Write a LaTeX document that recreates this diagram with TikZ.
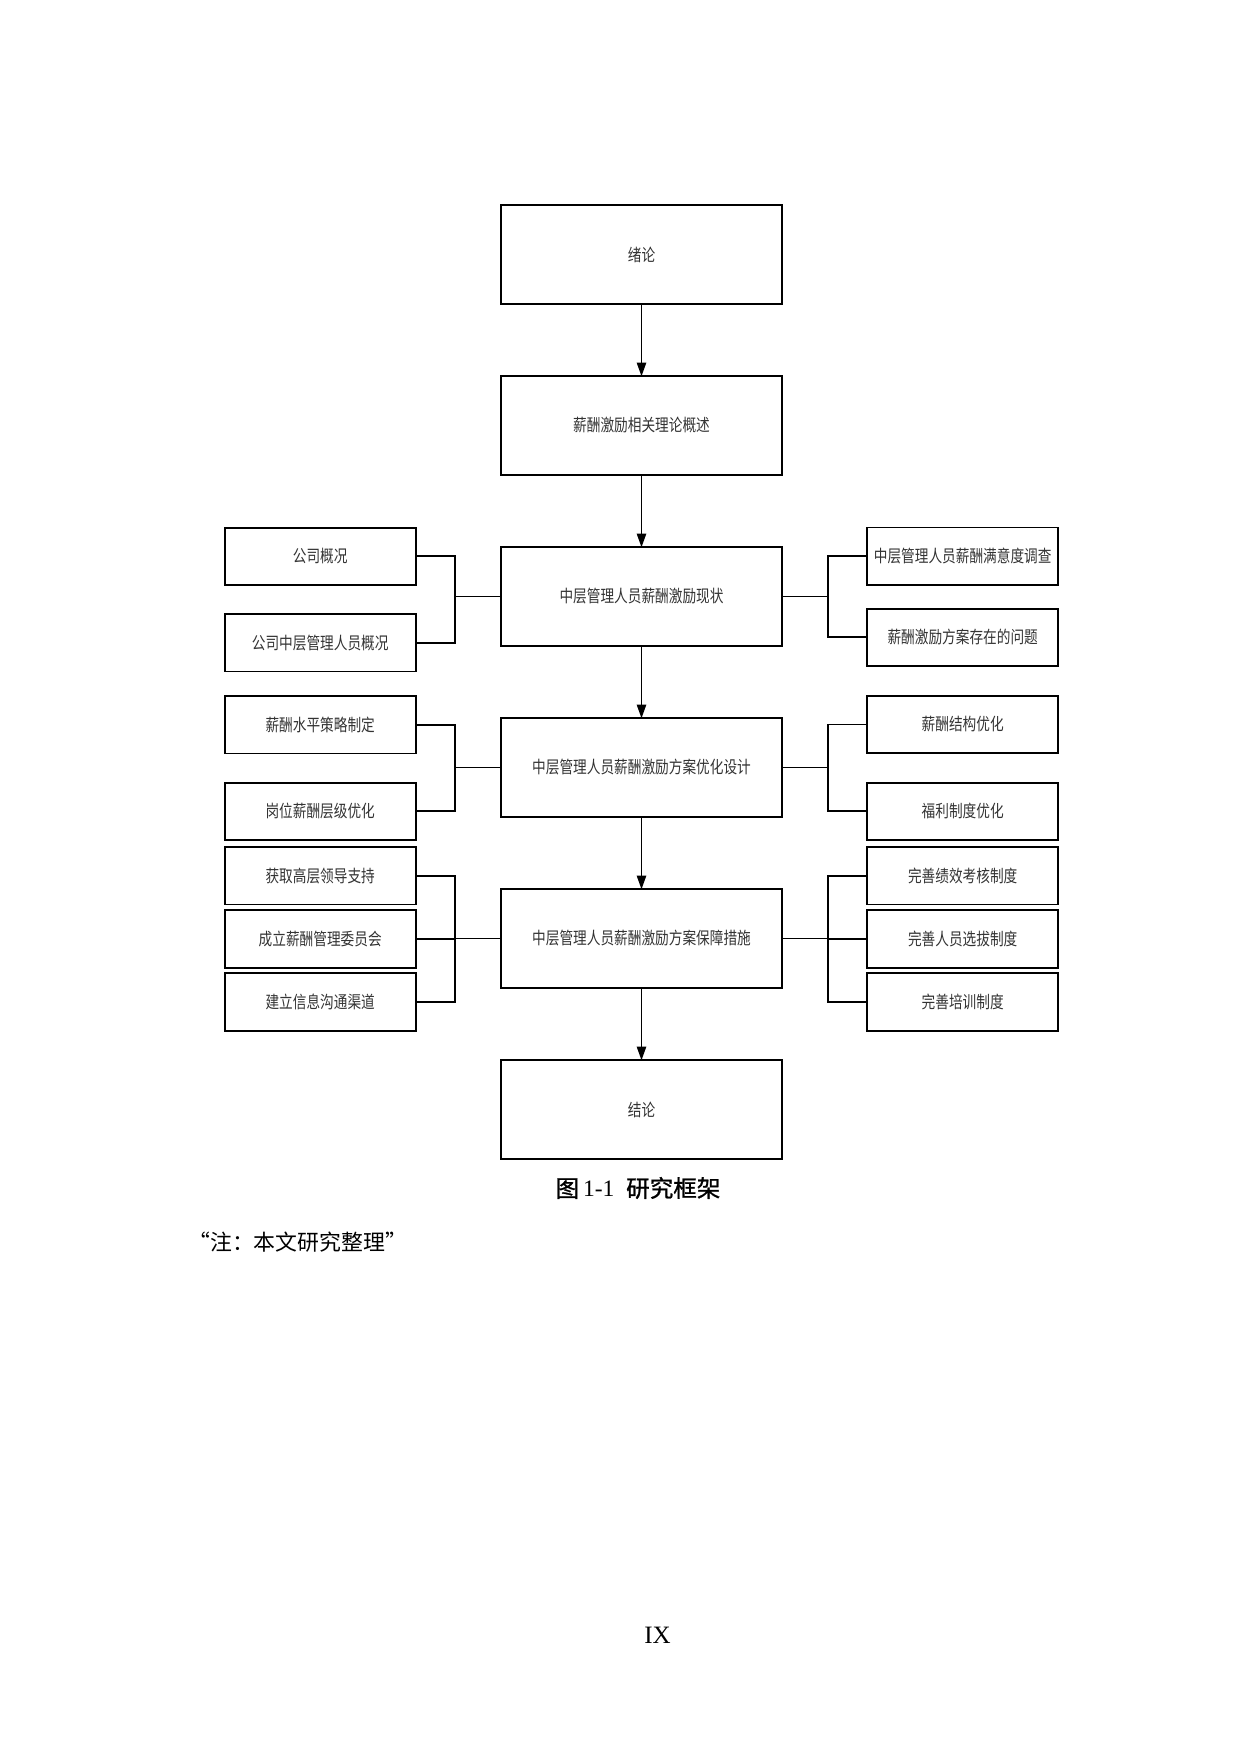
\documentclass[tikz,border=0pt]{standalone}
\usepackage{fontspec}
\setmainfont{Liberation Serif}
\newfontfamily\cjkbox[FakeStretch=0.8]{Noto Sans CJK SC}
\newfontfamily\cjkhead[FakeBold=1]{Noto Sans CJK SC}
\newfontfamily\cjk{Noto Sans CJK SC}
\usepackage{tikz}
\usetikzlibrary{arrows.meta}
\usetikzlibrary{calc}
\usetikzlibrary{positioning}

\begin{document}
\begin{tikzpicture} [
            x=0.48pt, y=-0.48pt,
            % ----- Node definitions ----- %
            mainnode/.style = {
                draw,
                rectangle,
                line width=0.9pt,
                inner sep=0pt,
                outer sep=0pt,
                minimum width=134.9pt,
                minimum height=47.3pt,
                align=center,
                text=black!80,
                font=\cjkbox\fontsize{8.2pt}{10pt}\selectfont
            },
            sidenode/.style = {
                mainnode,
                minimum width=91.7pt,
                minimum height=27.6pt
            },
            flowline/.style = {
                line width=0.6pt,
                -{Triangle[length=6.5pt,width=4.5pt]}
            },
            linkline/.style = {
                line width=0.9pt
            },
    ]
    \useasboundingbox (0,0) rectangle (1240,1754);

            % ----- Node constructions ----- %
        \node [mainnode] (intro)   at (641.5,254.5)  {绪论};
        \node [mainnode] (theory)  at (641.5,425.5)  {薪酬激励相关理论概述};
        \node [mainnode] (status)  at (641.5,596.5)  {中层管理人员薪酬激励现状};
        \node [mainnode] (design)  at (641.5,767.5)  {中层管理人员薪酬激励方案优化设计};
        \node [mainnode] (measure) at (641.5,938.5)  {中层管理人员薪酬激励方案保障措施};
        \node [mainnode] (concl)   at (641.5,1109.5) {结论};

        % left side
        \node [sidenode] (company)  at (320.2,556.4)  {公司概况};
        \node [sidenode] (managers) at (320.2,642.7)  {公司中层管理人员概况};
        \node [sidenode] (level)    at (320.2,724.7)  {薪酬水平策略制定};
        \node [sidenode] (grade)    at (320.2,811.4)  {岗位薪酬层级优化};
        \node [sidenode] (support)  at (320.2,875.7)  {获取高层领导支持};
        \node [sidenode] (board)    at (320.2,939.0)  {成立薪酬管理委员会};
        \node [sidenode] (channel)  at (320.2,1002.0) {建立信息沟通渠道};

        % right side
        \node [sidenode] (survey)    at (962.7,556.2)  {中层管理人员薪酬满意度调查};
        \node [sidenode] (problem)   at (962.7,637.4)  {薪酬激励方案存在的问题};
        \node [sidenode] (structure) at (962.7,724.5)  {薪酬结构优化};
        \node [sidenode] (welfare)   at (962.7,811.4)  {福利制度优化};
        \node [sidenode] (appraisal) at (962.7,875.7)  {完善绩效考核制度};
        \node [sidenode] (selection) at (962.7,939.0)  {完善人员选拔制度};
        \node [sidenode] (training)  at (962.7,1002.0) {完善培训制度};

            % ----- Connectors ----- %
        \draw [flowline] (intro.south)   -- (theory.north);
        \draw [flowline] (theory.south)  -- (status.north);
        \draw [flowline] (status.south)  -- (design.north);
        \draw [flowline] (design.south)  -- (measure.north);
        \draw [flowline] (measure.south) -- (concl.north);

        \foreach \s/\m in {company/status, managers/status, level/design, grade/design,
                           support/measure, board/measure, channel/measure}
            \draw [linkline] (\s.east) -| ($(\s.east)!0.46!(\m.west)$) |- (\m.west);
        \foreach \s/\m in {survey/status, problem/status, structure/design, welfare/design,
                           appraisal/measure, selection/measure, training/measure}
            \draw [linkline] (\s.west) -| ($(\s.west)!0.46!(\m.east)$) |- (\m.east);

            % ----- Caption and page text ----- %
        \node [font=\fontsize{11.3pt}{14pt}\selectfont] (caption) at (638,1188)
            {{\cjkhead 图}\,1-1\ \ {\cjkhead 研究框架}};
        \node [anchor=west, font=\cjk\fontsize{10.5pt}{12pt}\selectfont] (note) at (181,1242)
            {“注：本文研究整理”};
        \node [font=\fontsize{12pt}{14pt}\selectfont] (pagenum) at (657.5,1635) {IX};
\end{tikzpicture}
\end{document}
